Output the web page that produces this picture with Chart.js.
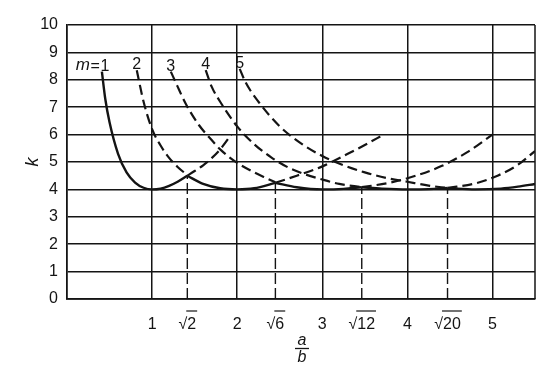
<!DOCTYPE html>
<html>
<head>
<meta charset="utf-8">
<script src="https://cdn.jsdelivr.net/npm/chart.js@4.4.0/dist/chart.umd.min.js"></script>
<style>
  html, body { margin: 0; padding: 0; background: #fff; }
  #wrap { width: 550px; height: 374px; }
</style>
</head>
<body>
<div id="wrap"><canvas id="chart"></canvas></div>
<script>
// a/b ticks: integers plus the crossing points of neighbouring curves
const xTicks = [1, 1.414, 2, 2.449, 3, 3.464, 4, 4.472, 5];
const xTickLabels = ['1', '√2', '2', '√6', '3', '√12', '4', '√20', '5'];
const yTicks = [0, 1, 2, 3, 4, 5, 6, 7, 8, 9, 10];
const curveLabels = ['1', '2', '3', '4', '5'];

// [a/b, k]; solid = governing part, dashed = rest
const m1Solid = [[0.41, 8.3], [0.45, 7.3], [0.5, 6.45], [0.6, 5.3], [0.7, 4.62], [0.8, 4.25], [0.9, 4.06], [1.0, 4.0], [1.1, 4.03], [1.2, 4.13], [1.3, 4.28], [1.414, 4.5]];
const m1Dash = [[1.414, 4.5], [1.5, 4.67], [1.6, 4.88], [1.7, 5.14], [1.8, 5.46], [1.93, 6.0]];

const m2DashA = [[0.82, 8.35], [0.9, 7.2], [1.0, 6.2], [1.1, 5.6], [1.2, 5.15], [1.3, 4.82], [1.414, 4.52]];
const m2Solid = [[1.414, 4.5], [1.6, 4.2], [1.8, 4.04], [2.0, 4.0], [2.2, 4.04], [2.449, 4.24]];
const m2DashB = [[2.449, 4.24], [2.7, 4.5], [3.0, 4.84], [3.3, 5.3], [3.5, 5.62], [3.72, 6.0]];

const m3DashA = [[1.22, 8.3], [1.3, 7.75], [1.4, 7.1], [1.55, 6.35], [1.7, 5.8], [1.8, 5.46], [2.0, 4.97], [2.2, 4.62], [2.35, 4.4], [2.449, 4.26]];
const m3Solid = [[2.449, 4.24], [2.7, 4.08], [3.0, 4.0], [3.25, 4.02], [3.464, 4.08]];
const m3DashB = [[3.464, 4.08], [3.8, 4.25], [4.1, 4.5], [4.4, 4.85], [4.7, 5.35], [5.0, 6.0]];

const m4DashA = [[1.63, 8.35], [1.7, 7.75], [1.8, 7.2], [2.0, 6.3], [2.2, 5.65], [2.4, 5.17], [2.6, 4.8], [2.8, 4.55], [3.0, 4.36], [3.2, 4.2], [3.464, 4.08]];
const m4Solid = [[3.464, 4.08], [3.7, 4.03], [4.0, 4.0], [4.25, 4.01], [4.472, 4.05]];
const m4DashB = [[4.472, 4.05], [4.8, 4.22], [5.06, 4.5], [5.3, 4.9], [5.5, 5.4]];

const m5DashA = [[2.03, 8.4], [2.1, 7.9], [2.25, 7.2], [2.5, 6.3], [2.75, 5.68], [3.0, 5.22], [3.25, 4.88], [3.5, 4.62], [3.75, 4.42], [4.0, 4.28], [4.25, 4.14], [4.472, 4.05]];
const m5Solid = [[4.472, 4.05], [4.8, 4.0], [5.1, 4.03], [5.3, 4.1], [5.5, 4.2]];

// vertical drop lines from the axis up to each crossing
const dropX = [1.414, 2.449, 3.464, 4.472];
const dropK = [4.5, 4.24, 4.08, 4.05];

const curveTops = [m1Solid[0], m2DashA[0], m3DashA[0], m4DashA[0], m5DashA[0]];

const INK = '#141414';
const FONT = '"Liberation Sans", Arial, Helvetica, sans-serif';

function pts(arr) {
  return arr.map((p) => ({ x: p[0], y: p[1] }));
}

function curve(arr, dashed) {
  return {
    data: pts(arr),
    showLine: true,
    borderColor: INK,
    borderWidth: dashed ? 2.2 : 2.4,
    borderDash: dashed ? [10, 5] : [],
    pointRadius: 0,
    fill: false,
    cubicInterpolationMode: 'monotone',
  };
}

const datasets = [
  curve(m1Solid, false), curve(m1Dash, true),
  curve(m2DashA, true), curve(m2Solid, false), curve(m2DashB, true),
  curve(m3DashA, true), curve(m3Solid, false), curve(m3DashB, true),
  curve(m4DashA, true), curve(m4Solid, false), curve(m4DashB, true),
  curve(m5DashA, true), curve(m5Solid, false),
];

dropX.forEach((x, i) => {
  datasets.push({
    data: [{ x: x, y: 0 }, { x: x, y: dropK[i] }],
    showLine: true,
    borderColor: INK,
    borderWidth: 1.4,
    borderDash: [11, 4],
    pointRadius: 0,
  });
});

// curve labels (m=1 .. 5), the a/b fraction, radical bars, right frame edge
const extraText = {
  id: 'extraText',
  afterDraw(chart) {
    const ctx = chart.ctx;
    const sx = chart.scales.x;
    const sy = chart.scales.y;
    const a = chart.chartArea;
    ctx.save();
    ctx.fillStyle = INK;
    ctx.strokeStyle = INK;

    ctx.lineWidth = 1.5;
    ctx.beginPath();
    ctx.moveTo(a.right, a.top);
    ctx.lineTo(a.right, a.bottom);
    ctx.stroke();

    ctx.textBaseline = 'alphabetic';
    curveTops.forEach((p, i) => {
      const px = sx.getPixelForValue(p[0]);
      const py = sy.getPixelForValue(p[1]) - 1;
      ctx.font = '16px ' + FONT;
      ctx.textAlign = 'center';
      const cx = i === 0 ? px + 3 : px;
      ctx.fillText(curveLabels[i], cx, py);
      if (i === 0) {
        ctx.textAlign = 'right';
        ctx.fillText('=', cx - 5, py);
        ctx.font = 'italic 17px ' + FONT;
        ctx.fillText('m', cx - 15, py - 1);
      }
    });

    // bar over the radicand of the √ tick labels
    ctx.font = '16px ' + FONT;
    ctx.lineWidth = 1.2;
    xTicks.forEach((v, i) => {
      const t = xTickLabels[i];
      if (t[0] !== '√') return;
      const w = ctx.measureText(t).width;
      const wr = ctx.measureText('√').width;
      const x0 = sx.getPixelForValue(v) - w / 2;
      const y0 = a.bottom + 12;
      ctx.beginPath();
      ctx.moveTo(x0 + wr - 1, y0);
      ctx.lineTo(x0 + w + 1, y0);
      ctx.stroke();
    });

    const fx = (a.left + a.right) / 2 + 1;
    ctx.font = 'italic 16px ' + FONT;
    ctx.textAlign = 'center';
    ctx.fillText('a', fx, a.bottom + 46);
    ctx.fillText('b', fx, a.bottom + 63);
    ctx.lineWidth = 1.3;
    ctx.beginPath();
    ctx.moveTo(fx - 7, a.bottom + 49.5);
    ctx.lineTo(fx + 7, a.bottom + 49.5);
    ctx.stroke();
    ctx.restore();
  },
};

new Chart(document.getElementById('chart'), {
  type: 'scatter',
  data: { datasets: datasets },
  plugins: [extraText],
  options: {
    responsive: true,
    maintainAspectRatio: false,
    animation: false,
    layout: { padding: { left: 0, right: 15, top: 25, bottom: 0 } },
    plugins: {
      legend: { display: false },
      tooltip: { enabled: false },
    },
    scales: {
      x: {
        type: 'linear',
        min: 0,
        max: 5.5,
        afterBuildTicks: (scale) => {
          scale.ticks = xTicks.map((v) => ({ value: v }));
        },
        afterFit: (scale) => {
          scale.height = 75;
        },
        ticks: {
          autoSkip: false,
          maxRotation: 0,
          padding: 16,
          color: INK,
          font: { family: FONT, size: 16 },
          callback: (v) => {
            const i = xTicks.indexOf(v);
            return i >= 0 ? xTickLabels[i] : '';
          },
        },
        grid: {
          drawTicks: false,
          lineWidth: 1.5,
          color: (c) => (c.tick && Number.isInteger(c.tick.value) ? INK : 'rgba(0,0,0,0)'),
        },
        border: { display: true, color: INK, width: 1.8 },
      },
      y: {
        type: 'linear',
        min: 0,
        max: 10,
        afterBuildTicks: (scale) => {
          scale.ticks = yTicks.map((v) => ({ value: v }));
        },
        afterFit: (scale) => {
          scale.width = 67;
        },
        title: {
          display: true,
          text: 'k',
          color: INK,
          padding: { top: 22, bottom: 0 },
          font: { family: FONT, size: 18, style: 'italic' },
        },
        ticks: {
          padding: 9,
          color: INK,
          font: { family: FONT, size: 16 },
        },
        grid: {
          drawTicks: false,
          lineWidth: 1.5,
          color: INK,
        },
        border: { display: true, color: INK, width: 1.8 },
      },
    },
  },
});
</script>
</body>
</html>
